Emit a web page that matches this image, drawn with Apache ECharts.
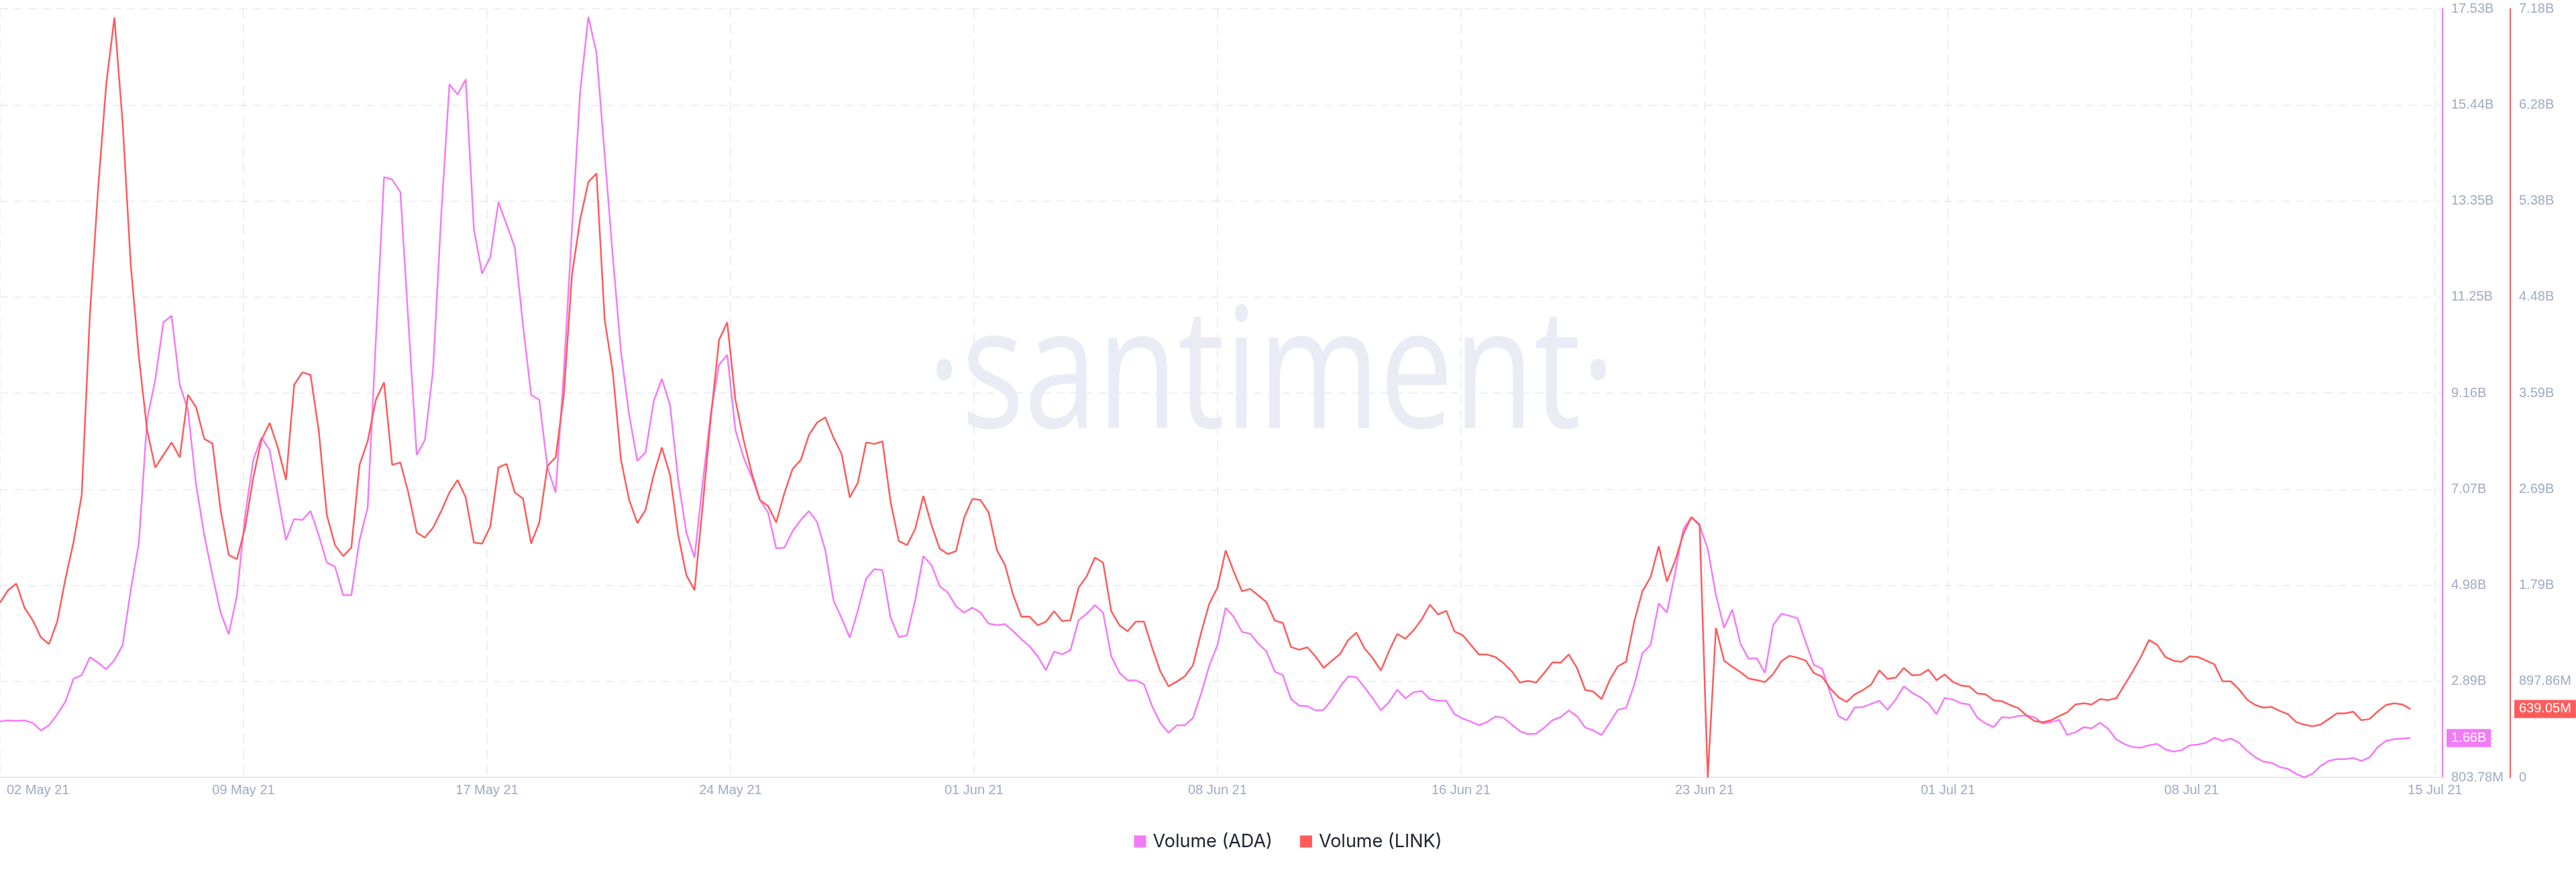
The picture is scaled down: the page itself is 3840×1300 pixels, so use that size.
<!DOCTYPE html>
<html>
<head>
<meta charset="utf-8">
<script src="https://cdn.jsdelivr.net/npm/echarts@6/dist/echarts.min.js"></script>
<style>
html,body{margin:0;padding:0;background:#ffffff;}
#chart{width:3840px;height:1300px;}
</style>
</head>
<body>
<div id="chart"></div>
<script>
// ---- data (values in billions USD), one point every 6 hours ----
const seriesStartUTC = Date.UTC(2021, 4, 2, 11, 0);
const stepHours = 6;

const linkVolumeB = [
  1.633,1.750,1.811,1.586,1.469,1.310,1.245,1.455,1.853,2.199,
  2.639,4.323,5.493,6.476,7.100,6.125,4.791,3.926,3.247,2.896,
  3.013,3.130,2.990,3.575,3.458,3.163,3.121,2.499,2.077,2.040,
  2.335,2.803,3.154,3.313,3.083,2.779,3.668,3.785,3.762,3.247,
  2.452,2.171,2.068,2.148,2.920,3.144,3.528,3.692,2.920,2.943,
  2.653,2.288,2.241,2.335,2.489,2.662,2.779,2.616,2.194,2.185,
  2.344,2.896,2.929,2.662,2.606,2.185,2.382,2.910,2.990,3.575,
  4.698,5.212,5.563,5.643,4.277,3.785,2.966,2.592,2.377,2.499,
  2.826,3.083,2.826,2.265,1.890,1.750,2.545,3.364,4.089,4.253,
  3.528,3.154,2.845,2.592,2.536,2.382,2.658,2.882,2.966,3.200,
  3.317,3.364,3.177,3.023,2.616,2.756,3.130,3.116,3.140,2.569,
  2.208,2.171,2.321,2.630,2.358,2.138,2.087,2.115,2.428,2.602,
  2.592,2.475,2.124,1.984,1.703,1.502,1.502,1.422,1.455,1.553,
  1.460,1.469,1.773,1.881,2.054,2.007,1.553,1.422,1.366,1.455,
  1.455,1.212,0.992,0.852,0.894,0.945,1.048,1.353,1.625,1.773,
  2.121,1.921,1.739,1.762,1.700,1.637,1.466,1.443,1.218,1.193,
  1.216,1.130,1.023,1.091,1.153,1.284,1.353,1.205,1.114,1.000,
  1.182,1.341,1.296,1.375,1.478,1.614,1.523,1.557,1.364,1.330,
  1.239,1.148,1.148,1.125,1.068,0.993,0.887,0.902,0.887,0.977,
  1.075,1.073,1.150,1.023,0.818,0.802,0.732,0.909,1.039,1.080,
  1.455,1.739,1.871,2.160,1.830,2.023,2.273,2.432,2.364,0,
  1.398,1.091,1.034,0.984,0.925,0.909,0.891,0.966,1.084,1.137,
  1.118,1.091,0.975,0.941,0.830,0.750,0.705,0.777,0.816,0.868,
  1.000,0.921,0.932,1.023,0.955,0.959,1.007,0.909,0.962,0.893,
  0.859,0.850,0.784,0.777,0.721,0.712,0.677,0.648,0.580,0.527,
  0.516,0.534,0.573,0.609,0.682,0.693,0.682,0.732,0.723,0.739,
  0.864,0.989,1.125,1.284,1.239,1.125,1.091,1.080,1.132,1.125,
  1.091,1.057,0.898,0.898,0.825,0.727,0.677,0.652,0.659,0.621,
  0.591,0.518,0.493,0.477,0.493,0.546,0.598,0.598,0.614,0.534,
  0.546,0.618,0.677,0.693,0.682,0.63905
];

const adaVolumeB = [
  2.024,2.046,2.035,2.046,1.991,1.828,1.937,2.177,2.449,2.951,
  3.027,3.419,3.299,3.158,3.354,3.681,4.879,5.915,8.584,9.456,
  10.709,10.851,9.347,8.802,7.168,6.078,5.206,4.389,3.920,4.770,
  6.514,7.713,8.203,7.930,6.950,5.969,6.427,6.405,6.601,6.078,
  5.479,5.391,4.770,4.770,5.969,6.677,10.328,13.869,13.815,13.542,
  10.655,7.821,8.148,9.674,13.052,15.885,15.668,15.994,12.725,11.766,
  12.126,13.324,12.834,12.344,10.655,9.129,9.020,7.549,7.004,9.619,
  12.725,15.722,17.356,16.572,14.360,12.126,10.055,8.693,7.691,7.876,
  8.987,9.478,8.911,7.277,6.132,5.588,7.222,8.748,9.783,10.001,
  8.366,7.767,7.342,6.841,6.568,5.784,5.806,6.165,6.405,6.601,
  6.361,5.751,4.661,4.269,3.844,4.443,5.130,5.337,5.315,4.280,
  3.855,3.899,4.661,5.620,5.424,4.966,4.825,4.530,4.389,4.498,
  4.389,4.149,4.117,4.138,3.986,3.811,3.659,3.441,3.136,3.539,
  3.485,3.572,4.225,4.367,4.552,4.389,3.441,3.081,2.918,2.918,
  2.831,2.351,1.991,1.774,1.937,1.937,2.100,2.630,3.239,3.689,
  4.494,4.298,3.970,3.927,3.715,3.546,3.107,3.027,2.508,2.366,
  2.355,2.260,2.276,2.498,2.773,3.001,2.985,2.763,2.524,2.265,
  2.445,2.710,2.524,2.657,2.683,2.508,2.471,2.471,2.180,2.085,
  2.021,1.942,2.011,2.127,2.101,1.958,1.810,1.746,1.757,1.889,
  2.048,2.117,2.260,2.138,1.889,1.826,1.725,1.995,2.276,2.313,
  2.816,3.504,3.689,4.589,4.393,5.251,6.204,6.469,6.283,5.780,
  4.774,4.060,4.457,3.715,3.387,3.398,3.080,4.113,4.361,4.324,
  4.266,3.742,3.250,3.170,2.630,2.138,2.048,2.328,2.334,2.403,
  2.471,2.276,2.498,2.789,2.646,2.551,2.413,2.180,2.535,2.498,
  2.418,2.392,2.101,1.979,1.900,2.117,2.101,2.143,2.154,2.111,
  1.979,2.006,2.058,1.730,1.788,1.894,1.873,1.995,1.863,1.630,
  1.529,1.466,1.450,1.503,1.534,1.413,1.365,1.397,1.503,1.518,
  1.561,1.667,1.598,1.651,1.561,1.386,1.243,1.148,1.121,1.031,
  0.989,0.883,0.80378,0.883,1.053,1.164,1.201,1.201,1.227,1.164,
  1.238,1.466,1.598,1.635,1.651,1.66
];

const seriesNames = ['Volume (ADA)', 'Volume (LINK)'];
const adaAxisRange = [0.80378, 17.5329];
const adaAxisStep = 2.09114;
const linkAxisRange = [0, 7.18288];
const linkAxisStep = 0.89786;
const xTickStepDays = 7.45;
const xSpanDays = 74.73;
const monthNames = ['Jan','Feb','Mar','Apr','May','Jun','Jul','Aug','Sep','Oct','Nov','Dec'];

// ---- helpers ----
const DAY = 86400000;
const ADA_COLOR = '#f47bf7';
const LINK_COLOR = '#ff5b5b';
const LABEL_COLOR = '#9faac4';
const GRID_COLOR = '#e7eaf3';
const AXIS_FONT = '"Liberation Sans", Arial, sans-serif';

function toPairs(values) {
  return values.map((v, i) => [seriesStartUTC + i * stepHours * 3600000, v]);
}
function fmtVolume(v) {
  if (v === 0) return '0';
  if (Math.abs(v) >= 1) return (Math.floor(v * 100 + 1e-6) / 100).toFixed(2) + 'B';
  return (Math.floor(v * 100000 + 1e-6) / 100).toFixed(2) + 'M';
}
function fmtDate(v) {
  const d = new Date(v);
  const dd = String(d.getUTCDate()).padStart(2, '0');
  return dd + ' ' + monthNames[d.getUTCMonth()] + ' ' + String(d.getUTCFullYear()).slice(2);
}

const adaLast = adaVolumeB[adaVolumeB.length - 1];
const linkLast = linkVolumeB[linkVolumeB.length - 1];

function lastValueMark(value, color, distance) {
  return {
    silent: true,
    symbol: 'none',
    animation: false,
    lineStyle: {color: 'rgba(0,0,0,0)', width: 0, type: 'solid'},
    emphasis: {disabled: true},
    label: {
      show: true,
      position: 'end',
      distance: distance,
      formatter: function () { return fmtVolume(value); },
      backgroundColor: color,
      color: '#ffffff',
      fontSize: 20,
      fontFamily: AXIS_FONT,
      padding: [4, 7, 3, 7]
    },
    data: [{yAxis: value}]
  };
}

const chart = echarts.init(document.getElementById('chart'), null, {renderer: 'canvas'});
chart.setOption({
  animation: false,
  backgroundColor: '#ffffff',
  grid: {left: 0, right: 199, top: 13, bottom: 141, containLabel: false},
  graphic: [{
    type: 'text',
    x: 1895, y: 567,
    scaleY: 1.28,
    silent: true,
    z: 0,
    style: {
      text: '·santiment·',
      font: 'normal 196px "Open Sans"',
      fill: '#e9ecf5',
      textAlign: 'center', align: 'center',
      textVerticalAlign: 'middle', verticalAlign: 'middle'
    }
  }],
  legend: {
    data: seriesNames,
    left: 'center',
    top: 1236,
    icon: 'rect',
    itemWidth: 18,
    itemHeight: 18,
    itemGap: 41,
    textStyle: {fontSize: 27, color: '#1d2130', fontFamily: 'Inter, "Open Sans", sans-serif', padding: [0, 0, 0, 5]}
  },
  xAxis: {
    type: 'value',
    min: seriesStartUTC,
    max: seriesStartUTC + xSpanDays * DAY,
    interval: xTickStepDays * DAY,
    axisLine: {show: true, lineStyle: {color: '#e3e7f2', width: 2}},
    axisTick: {show: false},
    axisLabel: {
      show: true,
      showMaxLabel: false,
      alignMinLabel: 'left',
      color: LABEL_COLOR,
      fontSize: 20,
      fontFamily: AXIS_FONT,
      margin: 9,
      formatter: function (v, idx) {
        return idx === 0 ? '{first|' + fmtDate(v) + '}' : fmtDate(v);
      },
      rich: {first: {padding: [0, 0, 0, 10], color: LABEL_COLOR, fontSize: 20, fontFamily: AXIS_FONT}}
    },
    splitLine: {show: true, lineStyle: {color: GRID_COLOR, type: [14, 9], width: 1.5}}
  },
  yAxis: [{
    type: 'value',
    position: 'right',
    min: adaAxisRange[0],
    max: adaAxisRange[1],
    interval: adaAxisStep,
    axisLine: {show: true, lineStyle: {color: ADA_COLOR, width: 2}},
    axisTick: {show: false},
    axisLabel: {color: LABEL_COLOR, fontSize: 20, fontFamily: AXIS_FONT, margin: 13, formatter: fmtVolume},
    splitLine: {show: true, lineStyle: {color: GRID_COLOR, type: [12, 9], width: 1.5}}
  }, {
    type: 'value',
    position: 'right',
    offset: 101,
    min: linkAxisRange[0],
    max: linkAxisRange[1],
    interval: linkAxisStep,
    axisLine: {show: true, lineStyle: {color: LINK_COLOR, width: 2}},
    axisTick: {show: false},
    axisLabel: {color: LABEL_COLOR, fontSize: 20, fontFamily: AXIS_FONT, margin: 13, formatter: fmtVolume},
    splitLine: {show: false}
  }],
  series: [{
    name: seriesNames[0],
    type: 'line',
    yAxisIndex: 0,
    data: toPairs(adaVolumeB),
    symbol: 'none',
    showSymbol: false,
    color: ADA_COLOR,
    lineStyle: {color: ADA_COLOR, width: 2.5},
    itemStyle: {color: ADA_COLOR},
    z: 3,
    markLine: lastValueMark(adaLast, ADA_COLOR, 6)
  }, {
    name: seriesNames[1],
    type: 'line',
    yAxisIndex: 1,
    data: toPairs(linkVolumeB),
    symbol: 'none',
    showSymbol: false,
    color: LINK_COLOR,
    lineStyle: {color: LINK_COLOR, width: 2.5},
    itemStyle: {color: LINK_COLOR},
    z: 4,
    markLine: lastValueMark(linkLast, LINK_COLOR, 107)
  }]
});
</script>
</body>
</html>
